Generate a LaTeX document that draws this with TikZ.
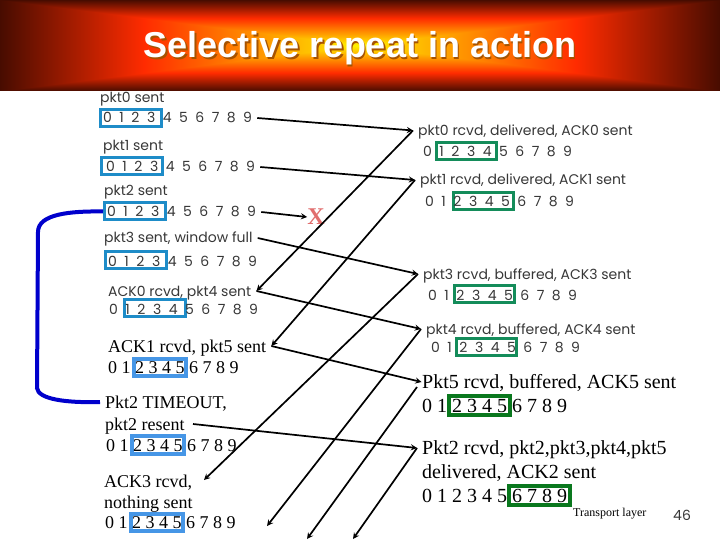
\documentclass[tikz,border=0pt]{standalone}
\usepackage{fontspec}
\setmainfont{Liberation Serif}
\newfontfamily\gothicfont{Poppins}
\newfontfamily\titlefont{Liberation Sans}
\usetikzlibrary{arrows,positioning}
\definecolor{sendblue}{RGB}{30,140,200}
\definecolor{lateblue}{RGB}{70,150,230}
\definecolor{rcvgreen}{RGB}{20,140,90}
\definecolor{lategreen}{RGB}{10,120,30}
\definecolor{gothicgray}{RGB}{55,55,55}
\definecolor{timeoutblue}{RGB}{0,0,204}
\definecolor{lostred}{RGB}{225,110,110}
\newcommand{\widedigits}{\spaceskip=7.5pt\relax}
\pgfdeclarefunctionalshading{bannerglow}{\pgfpointorigin}{\pgfpoint{100bp}{100bp}}{}{
  50 sub abs exch 50 sub abs 2 copy lt {exch} if pop 25 div
  dup 0.6 lt {1.3 mul 0.95 exch sub 1 exch 0}
  {0.6 sub 1.8 mul 1 exch sub dup 0.17 mul 0} ifelse
}
\tikzstyle{gothiclabel}=[anchor=west,inner xsep=5pt,inner ysep=0pt,text=gothicgray,text height=10pt,text depth=0pt,font=\gothicfont\fontsize{14}{16}\selectfont]
\tikzstyle{gothicrow}=[gothiclabel,font=\gothicfont\fontsize{14}{16}\selectfont\widedigits]
\tikzstyle{seriflabel}=[anchor=west,inner xsep=5pt,inner ysep=0pt,text height=12pt,text depth=0pt,font=\fontsize{18}{21}\selectfont]
\tikzstyle{biglabel}=[anchor=west,inner xsep=5pt,inner ysep=0pt,text height=13.5pt,text depth=0pt,font=\fontsize{20}{23}\selectfont]
\tikzstyle{sendwin}=[draw=sendblue,line width=3pt,minimum width=61pt,minimum height=17pt,inner sep=0pt]
\tikzstyle{latewin}=[draw=lateblue,line width=4pt,minimum width=52pt,minimum height=17.5pt,inner sep=0pt]
\tikzstyle{rcvwin}=[draw=rcvgreen,line width=3pt,minimum width=60pt,minimum height=17pt,inner sep=0pt]
\tikzstyle{donewin}=[draw=lategreen,line width=4pt,minimum width=61pt,minimum height=19pt,inner sep=0pt]
\tikzstyle{edge}=[draw,line width=1.7pt,->,>=stealth]
\begin{document}
\begin{tikzpicture}[x=1pt,y=-1pt]
    \useasboundingbox (0,0) rectangle (720,540);

    % title banner
    \shade[shading=bannerglow] (0,0) rectangle (720,91);
    \node[font=\titlefont\bfseries\fontsize{36}{40}\selectfont,text=white] (title) at (360,49)
        {\rlap{\hspace{1.5pt}\raisebox{-1.5pt}{\textcolor{black!35!orange}{Selective repeat in action}}}Selective repeat in action};

    % window frames
    \foreach \pos/\name in {{(131,118)/winzero},{(132,166)/winone},{(135,211.5)/wintwo},{(136,259.5)/winthree},{(155,308)/winfour}}
        \node[sendwin] (\name) at \pos {};
    \foreach \pos/\name in {{(160,367.5)/winfive},{(157.5,445)/winresent},{(157,522.5)/winidle}}
        \node[latewin] (\name) at \pos {};
    \foreach \pos/\name in {{(466.5,151.5)/rwinzero},{(483,201)/rwinone},{(484,294)/rwinthree},{(486.5,347)/rwinfour}}
        \node[rcvwin] (\name) at \pos {};
    \foreach \pos/\name in {{(479.5,405)/rwinfive},{(539.5,495.5)/rwintwo}}
        \node[donewin] (\name) at \pos {};

    % scanned labels
    \foreach \pos/\name/\label in {{(95,98)/pktzero/pkt0 sent},{(98,146)/pktone/pkt1 sent},{(99,191)/pkttwo/pkt2 sent},
        {(99,238)/pktthree/pkt3 sent, window full},{(103,291)/ackzero/ACK0 rcvd, pkt4 sent},
        {(413,130.5)/rcvzero/pkt0 rcvd, delivered, ACK0 sent},{(415,180)/rcvone/pkt1 rcvd, delivered, ACK1 sent},
        {(418,274)/rcvthree/pkt3 rcvd, buffered, ACK3 sent},{(421,329)/rcvfour/pkt4 rcvd, buffered, ACK4 sent}}
        \node[gothiclabel] (\name) at \pos {\label};
    \foreach \pos/\name in {{(98,118)/rowzero},{(101,167)/rowone},{(102,212)/rowtwo},{(103,261)/rowthree},{(104,309)/rowfour},
        {(418,152)/rrowzero},{(420,202)/rrowone},{(423,295)/rrowthree},{(426,347)/rrowfour}}
        \node[gothicrow] (\name) at \pos {0 1 2 3 4 5 6 7 8 9};

    % typed labels
    \foreach \pos/\name/\label in {{(103,346)/ackone/ACK1 rcvd, pkt5 sent},{(103,367)/rowfive/0 1 2 3 4 5 6 7 8 9},
        {(100,402)/timeout/Pkt2 TIMEOUT,},{(100,424)/resent/pkt2 resent},{(101,445)/rowresent/0 1 2 3 4 5 6 7 8 9},
        {(99,481)/ackthree/ACK3 rcvd,},{(99,502)/nothing/nothing sent},{(100,522)/rowidle/0 1 2 3 4 5 6 7 8 9}}
        \node[seriflabel] (\name) at \pos {\label};
    \foreach \pos/\name/\label in {{(417,406)/rrowfive/0 1 2 3 4 5 6 7 8 9},{(417,448)/rcvtwo/Pkt2 rcvd, pkt2,pkt3,pkt4,pkt5},
        {(417,472)/delivered/delivered, ACK2 sent},{(417,496)/rrowtwo/0 1 2 3 4 5 6 7 8 9}}
        \node[biglabel] (\name) at \pos {\label};
    \node[biglabel,inner xsep=0.5pt] (rcvfive) at (421.5,382) {Pkt5 rcvd, buffered, ACK5 sent};

    \node[anchor=west,inner sep=0pt,font=\fontsize{12}{14}\selectfont] (footer) at (573,514) {Transport layer};
    \node[anchor=west,inner sep=0pt,text=gothicgray,font=\gothicfont\fontsize{14}{16}\selectfont] (pagenum) at (673,515) {46};
    \node[inner sep=0pt,text=lostred,font=\bfseries\fontsize{24}{26}\selectfont] (lost) at (316,217) {X};

    % free ends
    \coordinate (resend) at (193,424);
    \coordinate (ackthreeend) at (204,480);
    \coordinate (ackfourend) at (267,526);
    \coordinate (ackfivestart) at (417,387);
    \coordinate (ackfiveend) at (307,539);
    \coordinate (acktwoend) at (353,539);

    % Connect labels with packets and acks
    \foreach \source/\dest in {rowzero.east/rcvzero.west, rowone.east/rcvone.west, rowtwo.east/lost.west,
        pktthree.east/rcvthree.west, ackzero.east/rcvfour.west, ackone.east/rcvfive.west, resend/rcvtwo.west,
        rcvzero.west/ackzero.east, rcvone.west/ackone.east, rcvthree.west/ackthreeend, rcvfour.west/ackfourend,
        ackfivestart/ackfiveend, rcvtwo.west/acktwoend}
        \path[edge] (\source) -- (\dest);

    \draw[timeoutblue,line width=4pt] (wintwo.west) .. controls (70,211) and (38,214) .. (38,232) -- (37,388)
        .. controls (38,399) and (65,403) .. (timeout.west);
\end{tikzpicture}
\end{document}
